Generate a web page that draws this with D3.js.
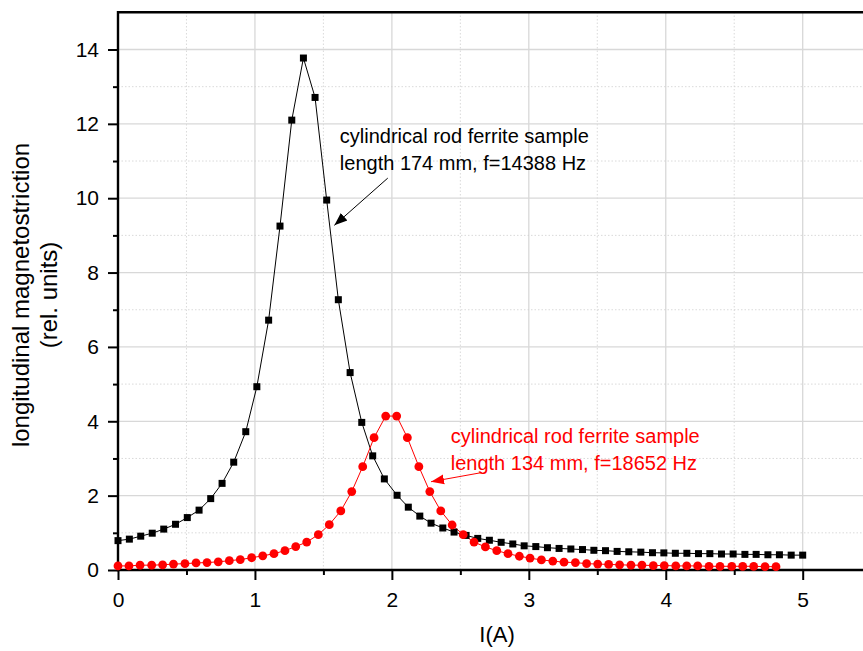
<!DOCTYPE html>
<html><head><meta charset="utf-8">
<script src="https://cdn.jsdelivr.net/npm/d3@7"></script>
<style>body{margin:0;background:#fff}svg{display:block}</style>
</head><body>
<script>
// ---- data ----
const blackX = [0.00,0.083,0.166,0.25,0.334,0.42,0.506,0.592,0.677,0.76,0.845,0.933,1.014,1.10,1.183,1.269,1.354,1.439,1.524,1.609,1.695,1.78,1.86,1.945,2.038,2.12,2.204,2.286,2.372,2.454,2.542,2.627,2.712,2.798,2.883,2.966,3.051,3.136,3.221,3.307,3.392,3.475,3.56,3.645,3.73,3.818,3.903,3.986,4.07,4.154,4.239,4.322,4.407,4.492,4.578,4.66,4.746,4.83,4.916,5.00];
const blackY = [0.79,0.83,0.91,0.99,1.10,1.23,1.41,1.61,1.92,2.33,2.90,3.72,4.93,6.72,9.25,12.10,13.77,12.71,9.95,7.27,5.31,3.97,3.07,2.45,2.01,1.69,1.45,1.26,1.13,1.02,0.93,0.85,0.80,0.745,0.70,0.65,0.63,0.60,0.58,0.565,0.55,0.53,0.52,0.50,0.49,0.48,0.465,0.46,0.45,0.45,0.44,0.44,0.43,0.43,0.42,0.42,0.41,0.41,0.40,0.40];
const redX = [0.00,0.080,0.161,0.246,0.326,0.405,0.489,0.570,0.650,0.732,0.813,0.893,0.976,1.057,1.139,1.219,1.298,1.378,1.463,1.543,1.627,1.707,1.787,1.870,1.955,2.035,2.113,2.197,2.277,2.357,2.440,2.521,2.600,2.683,2.766,2.848,2.931,3.009,3.092,3.175,3.257,3.340,3.422,3.503,3.583,3.663,3.746,3.826,3.909,3.989,4.073,4.153,4.233,4.316,4.396,4.482,4.562,4.642,4.725,4.805];
const redY = [0.11,0.11,0.13,0.13,0.14,0.16,0.17,0.19,0.20,0.22,0.25,0.28,0.33,0.38,0.44,0.52,0.63,0.75,0.95,1.22,1.59,2.11,2.78,3.56,4.14,4.14,3.56,2.78,2.11,1.59,1.21,0.95,0.75,0.62,0.52,0.44,0.37,0.32,0.27,0.24,0.21,0.20,0.17,0.16,0.15,0.14,0.13,0.13,0.12,0.12,0.11,0.11,0.11,0.10,0.10,0.10,0.10,0.10,0.09,0.09];
const xTicks = [0,1,2,3,4,5];
const xMinor = [0.5,1.5,2.5,3.5,4.5,5.5];
const yTicks = [0,2,4,6,8,10,12,14];
const yMinor = [1,3,5,7,9,11,13];
const xTitle = "I(A)";
const yTitle = ["longitudinal magnetostriction","(rel. units)"];
const noteBlack = ["cylindrical rod ferrite sample","length 174 mm, f=14388 Hz"];
const noteRed = ["cylindrical rod ferrite sample","length 134 mm, f=18652 Hz"];
// annotation anchors in data units: text left/baseline, arrow start, arrow tip
const noteBlackPos = {tx:1.62, ty:11.48, x1:1.97, y1:10.54, x2:1.58, y2:9.27};
const noteRedPos = {tx:2.43, ty:3.425, x1:2.656, y1:2.62, x2:2.286, y2:2.375};

// ---- layout ----
const W = 863, H = 651;
const FONT = "'Liberation Sans', Arial, sans-serif";
const x = d3.scaleLinear().domain([0,5.5]).range([118, 118 + 5.5*136.94]);
const y = d3.scaleLinear().domain([0,15]).range([570, 570 - 15*37.18]);

const svg = d3.select("body").append("svg").attr("width",W).attr("height",H)
  .style("font-family",FONT);
svg.append("rect").attr("width",W).attr("height",H).attr("fill","#fff");

const defs = svg.append("defs");
[["arrB","#000"],["arrR","#ff0000"]].forEach(([id,c])=>{
  defs.append("marker").attr("id",id).attr("viewBox","0 0 10 10").attr("refX",10).attr("refY",5)
    .attr("markerWidth",13).attr("markerHeight",13).attr("markerUnits","userSpaceOnUse").attr("orient","auto")
    .append("path").attr("d","M0,1.2 L10,5 L0,8.8 Z").attr("fill",c);
});

// grid
const grid = svg.append("g");
grid.selectAll(".gxm").data(xTicks.filter(d=>d>0)).join("line")
  .attr("x1",d=>x(d)).attr("x2",d=>x(d)).attr("y1",y(0)).attr("y2",y(15))
  .attr("stroke","#d8d8d8").attr("stroke-width",1.3);
grid.selectAll(".gxn").data(xMinor).join("line")
  .attr("x1",d=>x(d)).attr("x2",d=>x(d)).attr("y1",y(0)).attr("y2",y(15))
  .attr("stroke","#d0d0d0").attr("stroke-width",0.8).attr("stroke-dasharray","1.5,2");
grid.selectAll(".gym").data(yTicks.filter(d=>d>0)).join("line")
  .attr("x1",x(0)).attr("x2",W).attr("y1",d=>y(d)).attr("y2",d=>y(d))
  .attr("stroke","#d8d8d8").attr("stroke-width",1.3);
grid.selectAll(".gyn").data(yMinor).join("line")
  .attr("x1",x(0)).attr("x2",W).attr("y1",d=>y(d)).attr("y2",d=>y(d))
  .attr("stroke","#d0d0d0").attr("stroke-width",0.8).attr("stroke-dasharray","1.5,2");

// axes
const xAxis = svg.append("g").attr("transform",`translate(0,${y(0)})`)
  .call(d3.axisBottom(x).tickValues(xTicks).tickFormat(d3.format("d")).tickSize(10).tickPadding(12));
const xAxisMinor = svg.append("g").attr("transform",`translate(0,${y(0)})`)
  .call(d3.axisBottom(x).tickValues(xMinor).tickFormat("").tickSize(5));
const yAxis = svg.append("g").attr("transform",`translate(${x(0)},0)`)
  .call(d3.axisLeft(y).tickValues(yTicks).tickFormat(d3.format("d")).tickSize(10).tickPadding(9));
const yAxisMinor = svg.append("g").attr("transform",`translate(${x(0)},0)`)
  .call(d3.axisLeft(y).tickValues(yMinor).tickFormat("").tickSize(5));
[xAxis,xAxisMinor,yAxis,yAxisMinor].forEach(g=>{
  g.select(".domain").remove();
  g.selectAll(".tick line").attr("stroke","#000").attr("stroke-width",2);
  g.selectAll("text").attr("font-size",21).attr("font-family",FONT).attr("fill","#000");
});
// axis lines + top frame
svg.append("line").attr("x1",x(0)).attr("x2",W).attr("y1",y(0)).attr("y2",y(0)).attr("stroke","#000").attr("stroke-width",2.4);
svg.append("line").attr("x1",x(0)).attr("x2",x(0)).attr("y1",y(0)+1.2).attr("y2",y(15)-1.2).attr("stroke","#000").attr("stroke-width",2.4);
svg.append("line").attr("x1",x(0)).attr("x2",W).attr("y1",y(15)).attr("y2",y(15)).attr("stroke","#000").attr("stroke-width",2.4);

// series
const black = blackX.map((v,i)=>({x:v,y:blackY[i]}));
const red = redX.map((v,i)=>({x:v,y:redY[i]}));
const line = d3.line().x(d=>x(d.x)).y(d=>y(d.y));
const plot = svg.append("g");
plot.append("path").attr("d",line(black)).attr("fill","none").attr("stroke","#000").attr("stroke-width",1);
plot.append("path").attr("d",line(red)).attr("fill","none").attr("stroke","#ff0000").attr("stroke-width",1);
const S = 7;
plot.selectAll(".sq").data(black).join("rect")
  .attr("x",d=>x(d.x)-S/2).attr("y",d=>y(d.y)-S/2).attr("width",S).attr("height",S).attr("fill","#000");
plot.selectAll(".ci").data(red).join("circle")
  .attr("cx",d=>x(d.x)).attr("cy",d=>y(d.y)).attr("r",4.4).attr("fill","#ff0000");

// annotations
function note(lines,p,color,marker){
  const t = svg.append("text").attr("x",x(p.tx)).attr("y",y(p.ty)).attr("fill",color).attr("font-size",20);
  lines.forEach((s,i)=>t.append("tspan").attr("x",x(p.tx)).attr("dy",i?27:0).text(s));
  svg.append("line").attr("x1",x(p.x1)).attr("y1",y(p.y1)).attr("x2",x(p.x2)).attr("y2",y(p.y2))
    .attr("stroke",color).attr("stroke-width",1).attr("marker-end",`url(#${marker})`);
}
note(noteBlack,noteBlackPos,"#000","arrB");
note(noteRed,noteRedPos,"#ff0000","arrR");

// titles
svg.append("text").attr("x",497).attr("y",642).attr("text-anchor","middle")
  .attr("font-size",22).attr("fill","#000").text(xTitle);
const yt = svg.append("text").attr("transform",`translate(29,295) rotate(-90)`)
  .attr("text-anchor","middle").attr("font-size",24).attr("fill","#000");
yt.append("tspan").attr("x",0).attr("y",0).text(yTitle[0]);
yt.append("tspan").attr("x",0).attr("y",28).text(yTitle[1]);
</script>
</body></html>
